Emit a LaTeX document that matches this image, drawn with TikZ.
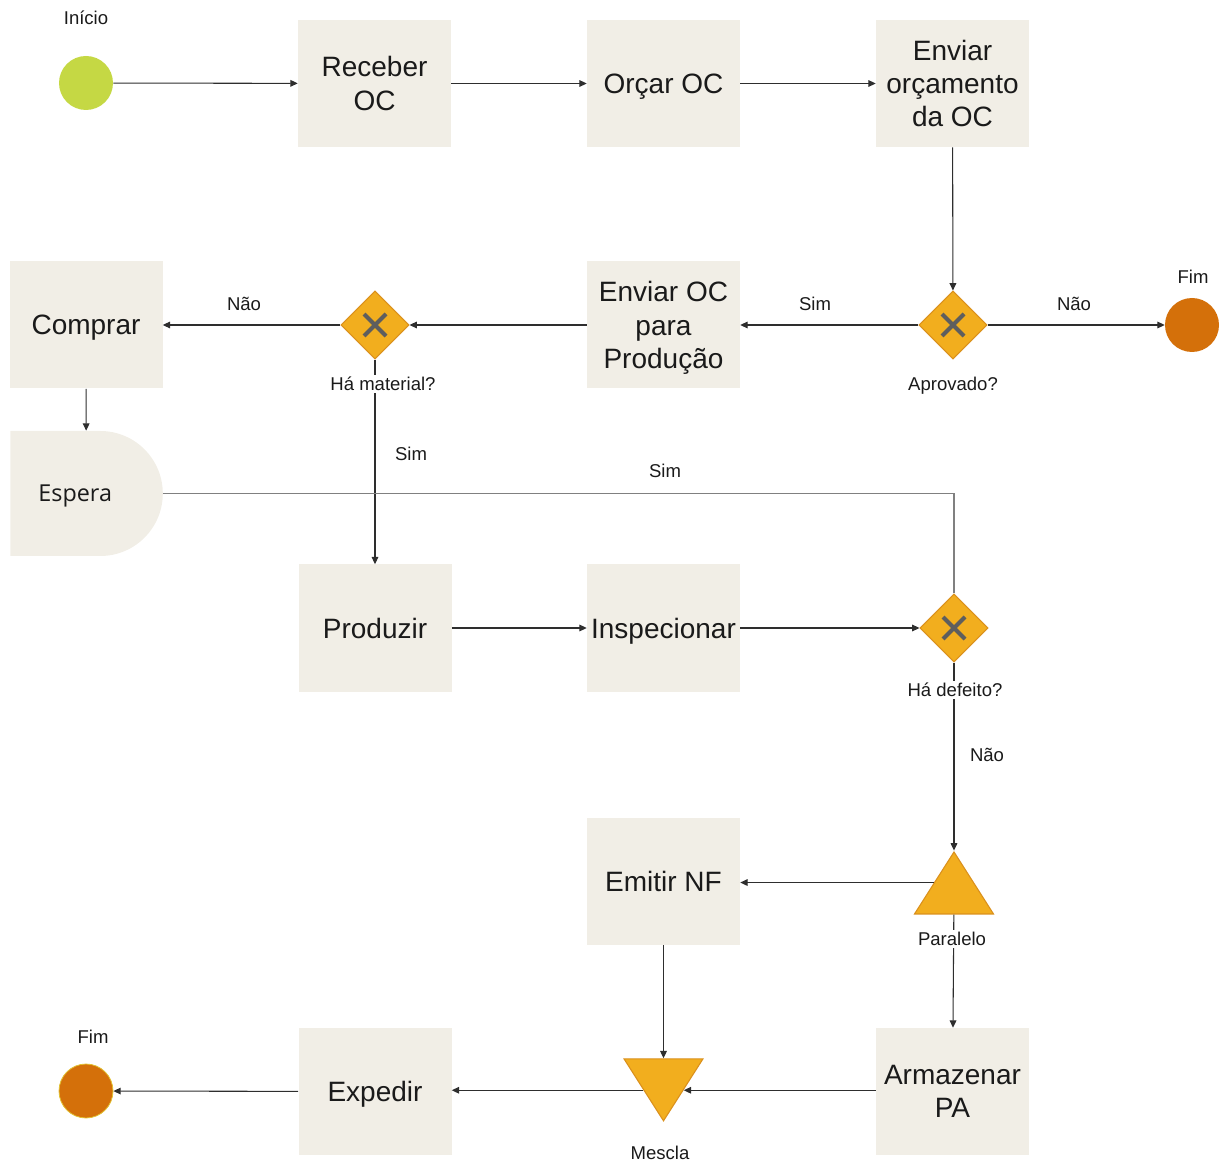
\documentclass[tikz,border=0pt]{standalone}
\usepackage{fontspec}
\setmainfont{Liberation Sans}
\newfontfamily\esperafont{Open Sans}
\usetikzlibrary{shapes.geometric,shapes.misc,arrows.meta}

\definecolor{boxfill}{HTML}{F1EEE6}
\definecolor{startfill}{HTML}{C5D844}
\definecolor{endfill}{HTML}{D4700A}
\definecolor{endring}{HTML}{E2C232}
\definecolor{gwfill}{HTML}{F2AE1E}
\definecolor{gwborder}{HTML}{DA901C}
\definecolor{xmark}{HTML}{5E5E5E}
\definecolor{linecol}{HTML}{2E2E2E}
\definecolor{softline}{HTML}{808080}
\definecolor{txt}{HTML}{1A1A1A}

\tikzset{
  task/.style={rectangle, fill=boxfill, minimum width=114.75pt, minimum height=95.25pt,
    inner sep=0pt, align=center, text=txt, text depth=0pt,
    font=\fontsize{21}{25}\selectfont},
  startev/.style={circle, fill=startfill, minimum size=40.5pt, inner sep=0pt},
  endev/.style={circle, fill=endfill, minimum size=40.5pt, inner sep=0pt},
  gateway/.style={diamond, fill=gwfill, draw=gwborder, line width=0.8pt,
    minimum size=51pt, inner sep=0pt,
    path picture={
      \draw[xmark, line width=3pt]
        ([shift={(-8.25pt,-8.25pt)}]path picture bounding box.center) --
        ([shift={(8.25pt,8.25pt)}]path picture bounding box.center);
      \draw[xmark, line width=3pt]
        ([shift={(-8.25pt,8.25pt)}]path picture bounding box.center) --
        ([shift={(8.25pt,-8.25pt)}]path picture bounding box.center);
    }},
  trig/.style={isosceles triangle, isosceles triangle stretches, fill=gwfill,
    draw=gwborder, line width=0.8pt, minimum width=59.25pt, minimum height=46.5pt,
    inner sep=0pt},
  lbl/.style={text=txt, font=\fontsize{13.9}{16}\selectfont, inner sep=1pt, text depth=0pt},
  lblw/.style={lbl, fill=white, inner sep=2pt},
  arr/.style={draw=linecol, line width=0.8pt, -{Triangle[length=5.5pt,width=5pt]}},
  plain/.style={draw=softline, line width=1.1pt},
}

\begin{document}
\begin{tikzpicture}[x=0.75pt,y=-0.75pt]
\useasboundingbox (0,0) rectangle (1222,1162);

% start / end events
\node[startev] (inicio) at (86,83) {};
\node[lbl] (inicioLbl) at (86,18) {Início};
\node[endev] (fim1) at (1192,325) {};
\node[lbl] (fim1Lbl) at (1193,277) {Fim};
\node[endev, draw=endring, line width=0.6pt] (fim2) at (86,1091) {};
\node[lbl] (fim2Lbl) at (93,1037) {Fim};

% tasks
\node[task] (receber) at (374.5,83.5) {Receber\\OC};
\node[task] (orcar) at (663.5,83.5) {Orçar OC};
\node[task] (enviarOrc) at (952.5,83.5) {Enviar\\orçamento\\da OC};
\node[task] (comprar) at (86,325) {Comprar};
\node[task] (enviarOC) at (663.5,325) {Enviar OC\\para\\Produção};
\node[task] (produzir) at (375,628) {Produzir};
\node[task] (inspecionar) at (663.5,628) {Inspecionar};
\node[task] (emitir) at (663.5,881.5) {Emitir NF};
\node[task] (armazenar) at (952.5,1091.5) {Armazenar\\PA};
\node[task] (expedir) at (375,1091.5) {Expedir};

% waiting shape
\node[rounded rectangle, rounded rectangle left arc=none, fill=boxfill,
  minimum width=114.4pt, minimum height=93.75pt, inner sep=0pt, text=txt,
  text depth=0pt, font=\esperafont\fontsize{17.5}{20}\selectfont]
  (espera) at (86.25,493.5) {Espera\kern16.5pt};

% gateways
\node[gateway] (material) at (375,325) {};
\node[gateway] (aprovado) at (953,325) {};
\node[gateway] (defeito) at (954,628) {};
\node[trig, shape border rotate=90] (paralelo) at (954,892.3) {};
\node[trig, shape border rotate=270] (mescla) at (663.5,1080.5) {};

% flow
\draw[arr] (inicio) -- (receber);
\draw[arr] (receber) -- (orcar);
\draw[arr] (orcar) -- (enviarOrc);
\draw[arr] (enviarOrc) -- (aprovado);
\draw[arr] (aprovado) -- (fim1);
\draw[arr] (aprovado) -- (enviarOC);
\draw[arr] (enviarOC) -- (material);
\draw[arr] (material) -- (comprar);
\draw[arr] (material) -- (produzir);
\draw[arr] (comprar) -- (espera);
\draw[plain] (defeito.north) |- (espera.east);
\draw[arr] (produzir) -- (inspecionar);
\draw[arr] (inspecionar) -- (defeito);
\draw[arr] (defeito) -- (paralelo.apex);
\draw[arr] (paralelo.left side) -- (paralelo.left side -| emitir.east);
\draw[arr] (paralelo) -- (armazenar);
\draw[arr] (emitir) -- (mescla);
\draw[arr] (armazenar.west |- mescla.left side) -- (mescla.left side);
\draw[arr] (mescla.right side) -- (mescla.right side -| expedir.east);
\draw[arr] (expedir) -- (fim2);

% gateway captions
\node[lblw] (materialLbl) at (383,384) {Há material?};
\node[lbl] (aprovadoLbl) at (953,384) {Aprovado?};
\node[lblw] (defeitoLbl) at (955,690) {Há defeito?};
\node[lblw] (paraleloLbl) at (952,939) {Paralelo};
\node[lbl] (mesclaLbl) at (660,1153) {Mescla};

% flow labels
\node[lbl] (naoComprar) at (244,304) {Não};
\node[lbl] (simEnviar) at (815,304) {Sim};
\node[lbl] (naoFim) at (1074,304) {Não};
\node[lbl] (simProduzir) at (411,454) {Sim};
\node[lbl] (simEspera) at (665,471) {Sim};
\node[lbl] (naoDefeito) at (987,755) {Não};
\end{tikzpicture}
\end{document}
